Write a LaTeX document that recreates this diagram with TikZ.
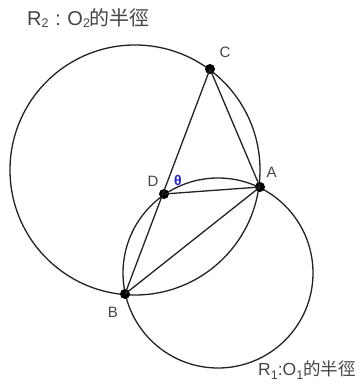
\documentclass[tikz,border=0pt]{standalone}
\usepackage{fontspec}
\setmainfont{Liberation Sans}
\newfontfamily\cjk{Noto Sans CJK TC}
\newcommand\lowsub[2]{\raisebox{-#2ex}{\fontsize{12.5}{12.5}\selectfont #1}}
\definecolor{txt}{HTML}{444444}
\definecolor{ln}{HTML}{222222}
\definecolor{thblue}{HTML}{2222CC}
\begin{document}
\begin{tikzpicture}[x=1pt,y=-1pt,
  curve/.style={draw=ln,line width=1.3pt},
  seg/.style={draw=ln,line width=1.3pt},
  dot/.style={circle,fill=black,inner sep=0pt,minimum size=10pt},
  lbl/.style={text=txt,font=\fontsize{15}{15}\selectfont,inner sep=0pt},
  captext/.style={text=txt,inner sep=0pt,anchor=west}]
\useasboundingbox (0,0) rectangle (361,387);
\coordinate (O2) at (135,170);
\coordinate (O1) at (218,273);
\draw[curve] (O2) circle (125);
\draw[curve] (O1) circle (95);
\node[dot] (C) at (210,69) {};
\node[dot] (A) at (260,187) {};
\node[dot] (D) at (164,194) {};
\node[dot] (B) at (125,294) {};
\draw[seg] (C.center) -- (B.center);
\draw[seg] (C.center) -- (A.center);
\draw[seg] (D.center) -- (A.center);
\draw[seg] (B.center) -- (A.center);
\node[lbl] (lC) at (225,52) {C};
\node[lbl] (lA) at (271.5,172.5) {A};
\node[lbl] (lD) at (153,181) {D};
\node[lbl] (lB) at (113,312.5) {B};
\node[text=thblue,font=\fontsize{14}{14}\selectfont\bfseries,inner sep=0pt] (th) at (178,180) {θ};
\node[captext,font=\fontsize{20}{20}\selectfont] (t2) at (27,18) {R\lowsub{2}{0.2}\,\,:\,\,O\lowsub{2}{0.2}{\cjk 的半徑}};
\node[captext,font=\fontsize{17.5}{17.5}\selectfont] (t1) at (258,370) {R\lowsub{1}{0.5}:O\lowsub{1}{0.5}{\cjk 的半徑}};
\end{tikzpicture}
\end{document}
